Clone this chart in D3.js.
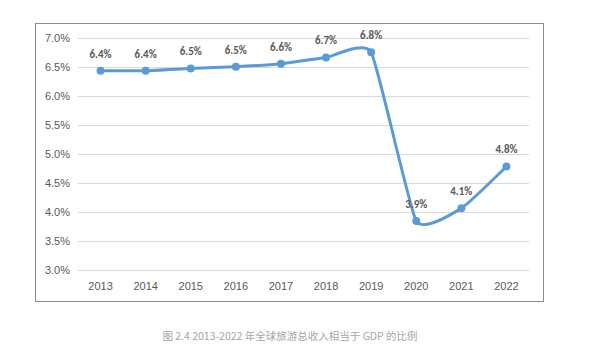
<!DOCTYPE html>
<html><head><meta charset="utf-8">
<script src="https://cdn.jsdelivr.net/npm/d3@7"></script>
<style>body{margin:0;background:#fff;}svg{display:block;font-family:Calibri,"Liberation Sans","Noto Sans",sans-serif;}</style>
</head><body>
<svg id="c" width="600" height="357"></svg>
<script>
const years = ["2013","2014","2015","2016","2017","2018","2019","2020","2021","2022"];
const values = [6.44, 6.44, 6.48, 6.51, 6.56, 6.67, 6.76, 3.85, 4.07, 4.79];
const labels = ["6.4%","6.4%","6.5%","6.5%","6.6%","6.7%","6.8%","3.9%","4.1%","4.8%"];
const yTicks = [3.0,3.5,4.0,4.5,5.0,5.5,6.0,6.5,7.0];
const caption = "图 2.4 2013-2022 年全球旅游总收入相当于 GDP 的比例";

const svg = d3.select("#c");
svg.append("rect").attr("x",35.5).attr("y",23.5).attr("width",508).attr("height",278)
  .attr("fill","#fff").attr("stroke","#8c8c8c").attr("stroke-width",1);

const x = d3.scaleBand().domain(years).range([78,529]);
const y = d3.scaleLinear().domain([3.0,7.0]).range([270.3,38.3]);

const grid = svg.append("g");
yTicks.forEach(t=>{
  grid.append("line").attr("x1",78).attr("x2",529).attr("y1",Math.round(y(t))+0.5).attr("y2",Math.round(y(t))+0.5)
    .attr("stroke","#d9d9d9").attr("stroke-width",1);
});
const yAxis = d3.axisLeft(y).tickValues(yTicks).tickFormat(d=>d.toFixed(1)+"%").tickSize(0).tickPadding(8);
const gy = svg.append("g").attr("transform","translate(78,0)").call(yAxis);
gy.select(".domain").remove();
gy.selectAll("text").attr("fill","#595959").style("font-size","11px");

const xAxis = d3.axisBottom(x).tickSize(0).tickPadding(10);
const gx = svg.append("g").attr("transform","translate(0,272)").call(xAxis);
gx.select(".domain").remove();
gx.selectAll("text").attr("fill","#595959").style("font-size","11px");

const pts = years.map((d,i)=>({year:d, v:values[i], l:labels[i]}));
const cx = d=>x(d.year)+x.bandwidth()/2;
const line = d3.line().x(cx).y(d=>y(d.v)).curve(d3.curveCardinal.tension(0.55));
svg.append("path").datum(pts).attr("d",line).attr("fill","none")
  .attr("stroke","#5b9bd5").attr("stroke-width",3).attr("stroke-linecap","round");
svg.selectAll("circle.p").data(pts).enter().append("circle")
  .attr("cx",cx).attr("cy",d=>y(d.v)).attr("r",4).attr("fill","#5b9bd5");
svg.selectAll("text.l").data(pts).enter().append("text")
  .attr("x",cx).attr("y",d=>y(d.v)-13).attr("text-anchor","middle")
  .attr("fill","#595959").style("font-size","11px").style("font-weight","bold").text(d=>d.l);

svg.append("text").attr("x",290).attr("y",340).attr("text-anchor","middle")
  .attr("fill","#a6a6a6").style("font-size","10.5px")
  .style("font-family","'Noto Sans CJK SC',sans-serif").text(caption);
</script>
</body></html>
